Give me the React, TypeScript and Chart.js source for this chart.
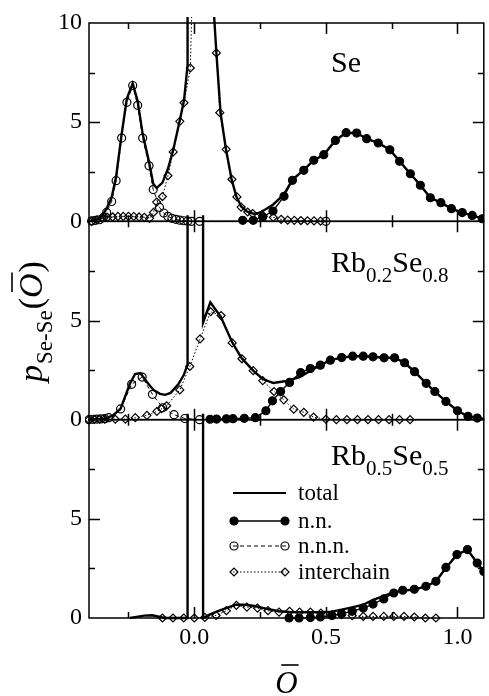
import React, { useEffect, useRef } from "react";
import { Chart, registerables } from "chart.js";

Chart.register(...registerables);

type P = [number, number];

// ---------- axes ----------
const X_MIN = -0.4;
const X_MAX = 1.1;
const X_TICKS = [0, 0.5, 1.0];
const X_MINOR = [-0.25, 0.25, 0.75];
const Y_MIN = 0;
const Y_MAX = 10;
const Y_TICKS_TOP = [0, 5, 10];
const Y_TICKS = [0, 5];
const Y_MINOR = [2.5, 5, 7.5];

// ---------- labels ----------
const LABEL_SE: [string, boolean][] = [["Se", false]];
const LABEL_RB02: [string, boolean][] = [["Rb", false], ["0.2", true], ["Se", false], ["0.8", true]];
const LABEL_RB05: [string, boolean][] = [["Rb", false], ["0.5", true], ["Se", false], ["0.5", true]];
const LEGEND_LABELS = ["total", "n.n.", "n.n.n.", "interchain"];

// ---------- panel 1 : Se ----------
const SE_TOTAL: P[] = [
  [-0.4, 0], [-0.37, 0.1], [-0.35, 0.25], [-0.333, 0.65], [-0.314, 1.2], [-0.297, 2.25], [-0.276, 4.4],
  [-0.256, 6.2], [-0.234, 6.95], [-0.215, 6.05], [-0.196, 4.4], [-0.172, 3.0], [-0.156, 1.9], [-0.143, 1.68],
  [-0.121, 1.95], [-0.1, 2.65], [-0.08, 3.6], [-0.055, 5.1], [-0.039, 6.1], [-0.026, 7.8], [-0.0255, 60],
  [0.06, 60], [0.07, 11.5], [0.084, 8.49], [0.1, 5.45], [0.12, 3.66], [0.142, 2.1], [0.16, 1.25],
  [0.178, 0.75], [0.2, 0.5], [0.225, 0.38], [0.245, 0.42], [0.27, 0.6], [0.3, 0.85], [0.34, 1.35],
  [0.373, 2.1], [0.416, 2.6], [0.454, 3.08], [0.492, 3.36], [0.536, 4.08], [0.577, 4.47], [0.617, 4.45],
  [0.655, 4.17], [0.699, 3.95], [0.743, 3.61], [0.78, 3.03], [0.821, 2.4], [0.859, 1.82], [0.897, 1.19],
  [0.937, 0.94], [0.977, 0.64], [1.018, 0.44], [1.056, 0.3], [1.1, 0.12],
];
const SE_NN: P[] = [
  [0.184, 0.05], [0.224, 0.05], [0.26, 0.22], [0.299, 0.52], [0.341, 1.26], [0.373, 2.07], [0.416, 2.57],
  [0.454, 3.08], [0.492, 3.36], [0.536, 4.08], [0.577, 4.47], [0.617, 4.45], [0.655, 4.17], [0.699, 3.95],
  [0.743, 3.61], [0.78, 3.03], [0.821, 2.4], [0.859, 1.82], [0.897, 1.19], [0.937, 0.94], [0.977, 0.64],
  [1.018, 0.44], [1.056, 0.3], [1.094, 0.13],
];
const SE_NNN: P[] = [
  [-0.39, 0.02], [-0.375, 0.05], [-0.36, 0.08], [-0.345, 0.2], [-0.333, 0.45], [-0.314, 1.0], [-0.297, 2.05],
  [-0.276, 4.2], [-0.256, 6.0], [-0.234, 6.85], [-0.215, 5.85], [-0.196, 4.2], [-0.172, 2.8], [-0.156, 1.6],
  [-0.132, 0.7], [-0.116, 0.42], [-0.1, 0.25], [-0.085, 0.15], [-0.07, 0.1], [-0.055, 0.06], [-0.04, 0.03],
  [-0.025, 0.01], [-0.01, 0], [0.02, 0], [0.5, 0],
];
const SE_INTER: P[] = [
  [-0.39, 0], [-0.37, 0.08], [-0.35, 0.15], [-0.33, 0.2], [-0.31, 0.22], [-0.29, 0.25], [-0.27, 0.25],
  [-0.25, 0.25], [-0.23, 0.25], [-0.21, 0.22], [-0.19, 0.2], [-0.17, 0.15], [-0.155, 0.45], [-0.143, 0.97],
  [-0.121, 1.25], [-0.1, 2.3], [-0.08, 3.5], [-0.055, 5.04], [-0.039, 5.98], [-0.015, 7.73], [-0.003, 14],
  [0.03, 25], [0.06, 14], [0.084, 8.49], [0.097, 5.48], [0.121, 3.63], [0.143, 2.12], [0.162, 1.23],
  [0.178, 0.72], [0.203, 0.47], [0.222, 0.39], [0.26, 0.3], [0.3, 0.2], [0.33, 0.1], [0.355, 0.06],
  [0.38, 0.05], [0.405, 0.04], [0.43, 0.03], [0.455, 0.02], [0.48, 0.01],
];

// ---------- panel 2 : Rb0.2Se0.8 ----------
const RB02_TOTAL: P[] = [
  [-0.4, 0], [-0.34, 0.05], [-0.31, 0.2], [-0.28, 0.55], [-0.245, 1.8], [-0.225, 2.3], [-0.205, 2.35],
  [-0.18, 1.9], [-0.155, 1.5], [-0.13, 1.3], [-0.111, 1.25], [-0.09, 1.35], [-0.06, 1.8], [-0.04, 2.25],
  [-0.026, 2.76], [-0.0255, 60], [0.033, 60], [0.0335, 4.9], [0.061, 5.92], [0.1, 5.2], [0.144, 3.9],
  [0.18, 3.1], [0.224, 2.47], [0.26, 2.05], [0.3, 1.85], [0.35, 1.95], [0.4, 2.15], [0.44, 2.45],
  [0.479, 2.75], [0.517, 3.0], [0.56, 3.13], [0.602, 3.2], [0.642, 3.2], [0.679, 3.17], [0.721, 3.12],
  [0.761, 3.12], [0.799, 2.87], [0.837, 2.42], [0.881, 1.83], [0.914, 1.42], [0.956, 0.92], [1.0, 0.45],
  [1.04, 0.17], [1.075, 0.08], [1.1, 0.05],
];
const RB02_NN: P[] = [
  [0.06, 0.02], [0.085, 0.03], [0.122, 0.04], [0.147, 0.05], [0.19, 0.07], [0.232, 0.1], [0.272, 0.45],
  [0.297, 0.95], [0.328, 1.42], [0.362, 1.88], [0.404, 2.37], [0.441, 2.58], [0.479, 2.75], [0.517, 3.0],
  [0.56, 3.13], [0.602, 3.2], [0.642, 3.2], [0.679, 3.17], [0.721, 3.12], [0.761, 3.12], [0.799, 2.87],
  [0.837, 2.42], [0.881, 1.83], [0.914, 1.42], [0.956, 0.92], [1.0, 0.45], [1.04, 0.17], [1.075, 0.08],
];
const RB02_NNN: P[] = [
  [-0.4, 0], [-0.385, 0.02], [-0.37, 0.03], [-0.355, 0.04], [-0.34, 0.05], [-0.325, 0.1], [-0.28, 0.54],
  [-0.238, 1.78], [-0.198, 2.15], [-0.159, 1.28], [-0.12, 0.6], [-0.077, 0.25], [-0.036, 0.06], [0.02, 0],
];
const RB02_INTER: P[] = [
  [-0.4, 0], [-0.38, 0.01], [-0.36, 0.02], [-0.34, 0.02], [-0.3, 0.02], [-0.262, 0.03], [-0.224, 0.1],
  [-0.18, 0.22], [-0.142, 0.42], [-0.124, 0.55], [-0.105, 0.7], [-0.055, 1.5], [-0.017, 2.68], [0.022, 4.07],
  [0.062, 5.44], [0.102, 5.25], [0.144, 3.87], [0.181, 3.07], [0.224, 2.47], [0.26, 1.97], [0.303, 1.42],
  [0.34, 1.0], [0.378, 0.53], [0.416, 0.37], [0.453, 0.13], [0.5, 0.02], [0.54, 0], [0.58, 0], [0.62, 0],
  [0.66, 0], [0.7, 0], [0.74, 0], [0.78, 0], [0.82, 0],
];

// ---------- panel 3 : Rb0.5Se0.5 ----------
const RB05_TOTAL: P[] = [
  [-0.245, 0], [-0.22, 0.06], [-0.19, 0.12], [-0.16, 0.14], [-0.13, 0.05], [-0.11, 0], [-0.026, 0],
  [-0.0255, 60], [0.033, 60], [0.0335, 0], [0.058, 0.17], [0.09, 0.35], [0.121, 0.5], [0.159, 0.67],
  [0.196, 0.67], [0.234, 0.59], [0.272, 0.47], [0.322, 0.34], [0.36, 0.3], [0.398, 0.29], [0.435, 0.29],
  [0.479, 0.29], [0.523, 0.32], [0.56, 0.42], [0.604, 0.55], [0.642, 0.67], [0.679, 0.92], [0.717, 1.09],
  [0.755, 1.29], [0.792, 1.39], [0.836, 1.43], [0.88, 1.59], [0.918, 1.85], [0.956, 2.52], [0.998, 3.19],
  [1.038, 3.44], [1.075, 2.77], [1.1, 2.35],
];
const RB05_NN: P[] = [
  [0.36, 0], [0.398, 0], [0.441, 0.02], [0.479, 0.05], [0.523, 0.12], [0.56, 0.22], [0.6, 0.34],
  [0.642, 0.5], [0.679, 0.7], [0.72, 0.96], [0.758, 1.26], [0.792, 1.4], [0.836, 1.45], [0.88, 1.6],
  [0.918, 1.85], [0.956, 2.55], [0.998, 3.2], [1.038, 3.45], [1.075, 2.77], [1.1, 2.35],
];
const RB05_INTER: P[] = [
  [-0.121, 0], [-0.081, 0], [-0.04, 0], [0.0, 0], [0.04, 0.03], [0.083, 0.13], [0.122, 0.37], [0.16, 0.64],
  [0.2, 0.55], [0.24, 0.5], [0.28, 0.37], [0.322, 0.3], [0.362, 0.34], [0.4, 0.3], [0.441, 0.3],
  [0.481, 0.25], [0.523, 0.17], [0.56, 0.17], [0.6, 0.12], [0.642, 0.08], [0.679, 0.08], [0.72, 0.08],
  [0.758, 0.08], [0.797, 0.08], [0.836, 0.05], [0.878, 0], [0.918, 0],
];

// ---------- styles ----------
const SERIF = "'Liberation Serif', 'Times New Roman', Times, serif";
const BLACK = "#000";
const NONE = "rgba(0,0,0,0)";
const STYLE: Record<string, any> = {
  total: { borderWidth: 2.4, pointRadius: 0, borderDash: [], pointStyle: "circle", pointBackgroundColor: BLACK },
  nn: { borderWidth: 1.4, pointRadius: 4, borderDash: [], pointStyle: "circle", pointBackgroundColor: BLACK },
  nnn: { borderWidth: 1, pointRadius: 4, borderDash: [4, 3], pointStyle: "circle", pointBackgroundColor: NONE },
  inter: { borderWidth: 1, pointRadius: 4, borderDash: [1.5, 2], pointStyle: "rectRot", pointBackgroundColor: NONE },
};

const PANELS = [
  { axis: "yA", label: LABEL_SE, labelDy: 49, series: { total: SE_TOTAL, nn: SE_NN, nnn: SE_NNN, inter: SE_INTER } },
  { axis: "yB", label: LABEL_RB02, labelDy: 51, series: { total: RB02_TOTAL, nn: RB02_NN, nnn: RB02_NNN, inter: RB02_INTER } },
  { axis: "yC", label: LABEL_RB05, labelDy: 45, series: { total: RB05_TOTAL, nn: RB05_NN, inter: RB05_INTER } },
];

function buildDatasets() {
  const out: any[] = [];
  for (const p of PANELS) {
    for (const key of ["total", "nn", "nnn", "inter"]) {
      const arr = (p.series as any)[key] as P[] | undefined;
      if (!arr) continue;
      const s = STYLE[key];
      out.push({
        label: key,
        data: arr.map(([x, y]) => ({ x, y })),
        yAxisID: p.axis,
        borderColor: BLACK,
        borderWidth: s.borderWidth,
        borderDash: s.borderDash,
        pointRadius: s.pointRadius,
        pointStyle: s.pointStyle,
        pointBackgroundColor: s.pointBackgroundColor,
        pointBorderColor: BLACK,
        pointBorderWidth: 1.2,
        tension: 0,
        fill: false,
        clip: { left: 4, top: 6, right: 0, bottom: 6 },
      });
    }
  }
  return out;
}

function drawRuns(ctx: CanvasRenderingContext2D, runs: [string, boolean][], x: number, y: number,
  mainFont: string, subFont: string, subShift: number) {
  let cx = x;
  for (const [t, sub] of runs) {
    ctx.font = sub ? subFont : mainFont;
    ctx.fillText(t, cx, y + (sub ? subShift : 0));
    cx += ctx.measureText(t).width;
  }
}

function drawMarker(ctx: CanvasRenderingContext2D, style: any, x: number, y: number) {
  if (!style.pointRadius) return;
  ctx.save();
  ctx.setLineDash([]);
  ctx.lineWidth = 1.2;
  ctx.strokeStyle = BLACK;
  ctx.fillStyle = style.pointBackgroundColor;
  const r = style.pointRadius;
  ctx.beginPath();
  if (style.pointStyle === "rectRot") {
    ctx.moveTo(x - r, y); ctx.lineTo(x, y - r); ctx.lineTo(x + r, y); ctx.lineTo(x, y + r); ctx.closePath();
  } else {
    ctx.arc(x, y, r, 0, Math.PI * 2);
  }
  ctx.fill();
  ctx.stroke();
  ctx.restore();
}

const panelPlugin = {
  id: "panelFrames",
  beforeDatasetsDraw(chart: any) {
    const ctx: CanvasRenderingContext2D = chart.ctx;
    const xs = chart.scales.x;
    const { left, right } = chart.chartArea;
    ctx.save();
    ctx.strokeStyle = BLACK;
    ctx.lineWidth = 1.5;
    ctx.setLineDash([]);
    for (const p of PANELS) {
      const ys = chart.scales[p.axis];
      const top = ys.top, bottom = ys.bottom;
      ctx.strokeRect(left, top, right - left, bottom - top);
      ctx.beginPath();
      for (const v of [...X_TICKS, ...X_MINOR]) {
        const len = X_TICKS.includes(v) ? 11 : 6;
        const px = Math.round(xs.getPixelForValue(v)) + 0.5;
        ctx.moveTo(px, top); ctx.lineTo(px, top + len);
        ctx.moveTo(px, bottom); ctx.lineTo(px, bottom - len);
      }
      for (const v of Y_MINOR) {
        const len = v === 5 ? 11 : 6;
        const py = Math.round(ys.getPixelForValue(v)) + 0.5;
        ctx.moveTo(left, py); ctx.lineTo(left + len, py);
        ctx.moveTo(right, py); ctx.lineTo(right - len, py);
      }
      ctx.stroke();
    }
    ctx.restore();
  },
  afterDraw(chart: any) {
    const ctx: CanvasRenderingContext2D = chart.ctx;
    const xs = chart.scales.x;
    ctx.save();
    ctx.fillStyle = BLACK;
    ctx.textAlign = "left";
    ctx.textBaseline = "alphabetic";

    // panel labels
    for (const p of PANELS) {
      const ys = chart.scales[p.axis];
      drawRuns(ctx, p.label, 331, ys.top + p.labelDy, `30px ${SERIF}`, `21px ${SERIF}`, 10);
    }

    // legend inside bottom panel
    const keys = ["total", "nn", "nnn", "inter"];
    const lx0 = 233, lx1 = 286;
    const lys = [493, 521, 546, 572];
    keys.forEach((k, i) => {
      const s = STYLE[k];
      const y = lys[i];
      ctx.save();
      ctx.strokeStyle = BLACK;
      ctx.lineWidth = k === "total" ? 2 : s.borderWidth;
      ctx.setLineDash(s.borderDash);
      ctx.beginPath();
      ctx.moveTo(lx0, y); ctx.lineTo(lx1, y);
      ctx.stroke();
      ctx.restore();
      drawMarker(ctx, s, lx0 + 1, y);
      drawMarker(ctx, s, lx1 - 1, y);
      ctx.font = `23px ${SERIF}`;
      ctx.textBaseline = "middle";
      ctx.fillText(LEGEND_LABELS[i], 298, y + 1);
      ctx.textBaseline = "alphabetic";
    });

    // y title (rotated)
    ctx.save();
    ctx.translate(42, 382);
    ctx.rotate(-Math.PI / 2);
    let cx = 0;
    ctx.font = `italic 34px ${SERIF}`;
    ctx.fillText("p", cx, 0); cx += ctx.measureText("p").width + 1;
    ctx.font = `23px ${SERIF}`;
    ctx.fillText("Se-Se", cx, 10); cx += ctx.measureText("Se-Se").width + 1;
    ctx.font = `34px ${SERIF}`;
    ctx.fillText("(", cx, 0); cx += ctx.measureText("(").width;
    ctx.font = `italic 34px ${SERIF}`;
    const ow = ctx.measureText("O").width;
    ctx.fillText("O", cx, 0);
    ctx.lineWidth = 1.6;
    ctx.beginPath(); ctx.moveTo(cx + 6, -30); ctx.lineTo(cx + ow + 1, -30); ctx.stroke();
    cx += ow + 1;
    ctx.font = `34px ${SERIF}`;
    ctx.fillText(")", cx, 0);
    ctx.restore();

    // x title
    ctx.font = `italic 31px ${SERIF}`;
    const w = ctx.measureText("O").width;
    const xc = xs.getPixelForValue(0.35);
    const bx = xc - w / 2;
    ctx.fillText("O", bx, 693);
    ctx.lineWidth = 1.6;
    ctx.beginPath(); ctx.moveTo(bx + 6, 665); ctx.lineTo(bx + w + 1, 665); ctx.stroke();
    ctx.restore();
  },
};

function yAxis(ticks: number[], weight: number) {
  return {
    type: "linear" as const,
    position: "left" as const,
    stack: "panels",
    stackWeight: 1,
    weight,
    min: Y_MIN,
    max: Y_MAX,
    grid: { display: false, drawTicks: false },
    border: { display: false },
    afterBuildTicks: (s: any) => { s.ticks = ticks.map((v) => ({ value: v })); },
    afterFit: (s: any) => { s.width = 89; },
    ticks: {
      autoSkip: false,
      padding: 7,
      color: BLACK,
      font: { family: SERIF, size: 24 },
      callback: (v: any) => String(v),
    },
  };
}

export default function App() {
  const ref = useRef<HTMLCanvasElement | null>(null);
  useEffect(() => {
    if (!ref.current) return;
    const chart = new Chart(ref.current, {
      type: "line",
      data: { datasets: buildDatasets() },
      options: {
        animation: false,
        responsive: false,
        devicePixelRatio: 1,
        layout: { padding: { top: 23, right: 2, left: 0, bottom: 0 } },
        plugins: { legend: { display: false }, tooltip: { enabled: false } },
        scales: {
          x: {
            type: "linear",
            min: X_MIN,
            max: X_MAX,
            grid: { display: false, drawTicks: false },
            border: { display: false },
            afterBuildTicks: (s: any) => { s.ticks = X_TICKS.map((v) => ({ value: v })); },
            afterFit: (s: any) => { s.height = 78; },
            ticks: {
              autoSkip: false,
              maxRotation: 0,
              padding: 5,
              color: BLACK,
              font: { family: SERIF, size: 24 },
              callback: (v: any) => Number(v).toFixed(1),
            },
          },
          yC: yAxis(Y_TICKS, 1),
          yB: yAxis(Y_TICKS, 2),
          yA: yAxis(Y_TICKS_TOP, 3),
        } as any,
      },
      plugins: [panelPlugin],
    } as any);
    return () => chart.destroy();
  }, []);
  return (
    <div style={{ position: "absolute", left: 0, top: 0, width: 489, height: 696, background: "#fff" }}>
      <canvas ref={ref} width={489} height={696} style={{ display: "block", width: 489, height: 696 }} />
    </div>
  );
}
